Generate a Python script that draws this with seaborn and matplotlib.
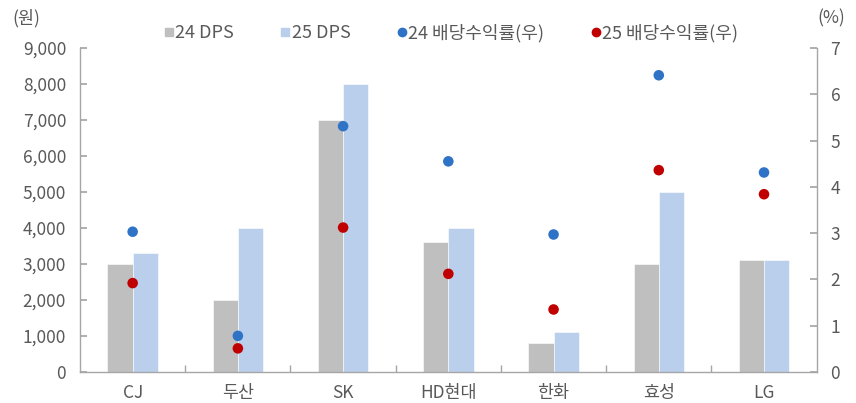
import numpy as np
import pandas as pd
import matplotlib
matplotlib.use("Agg")
import matplotlib.pyplot as plt
from matplotlib.lines import Line2D
from matplotlib.ticker import FuncFormatter, MultipleLocator, FixedLocator
import seaborn as sns

categories = ["CJ", "두산", "SK", "HD현대", "한화", "효성", "LG"]
dps24 = [3000, 2000, 7000, 3600, 800, 3000, 3100]
dps25 = [3300, 4000, 8000, 4000, 1100, 5000, 3100]
yield24 = [3.03, 0.78, 5.31, 4.55, 2.97, 6.41, 4.31]
yield25 = [1.92, 0.51, 3.12, 2.12, 1.35, 4.36, 3.84]
bar_labels = ["24 DPS", "25 DPS"]
dot_labels = ["24 배당수익률(우)", "25 배당수익률(우)"]

sns.set_theme(style="white")
plt.rcParams['font.family'] = ['Noto Sans CJK KR', 'DejaVu Sans']

TXT = "#595959"
SPINE = "#A6A6A6"
C_G = "#BFBFBF"
C_LB = "#B9CFEC"
C_B = "#2F73C6"
C_R = "#C00000"

bars = pd.DataFrame({
    "cat": categories * 2,
    "val": dps24 + dps25,
    "series": [bar_labels[0]] * len(categories) + [bar_labels[1]] * len(categories),
})
dots = pd.DataFrame({
    "cat": categories * 2,
    "val": yield24 + yield25,
    "series": [dot_labels[0]] * len(categories) + [dot_labels[1]] * len(categories),
})

fig = plt.figure(figsize=(8.56, 4.03), dpi=100)
ax = fig.add_axes([0.0935, 0.077, 0.8605, 0.804])
sns.barplot(data=bars, x="cat", y="val", hue="series", order=categories,
            palette=[C_G, C_LB], width=0.48, ax=ax, legend=False, saturation=1,
            edgecolor="white", linewidth=0.4)
ax.set_ylim(0, 9000)
ax.set_xlim(-0.5, len(categories) - 0.5)
ax.yaxis.set_major_locator(MultipleLocator(1000))
ax.yaxis.set_major_formatter(FuncFormatter(lambda v, p: f"{int(v):,}"))
ax.set_xlabel("")
ax.set_ylabel("")

ax2 = ax.twinx()
sns.stripplot(data=dots, x="cat", y="val", hue="series", order=categories,
              palette=[C_B, C_R], jitter=False, dodge=False, size=7.6, linewidth=0,
              ax=ax2, legend=False, zorder=5)
ax2.set_ylim(0, 7)
ax2.set_xlim(-0.5, len(categories) - 0.5)
ax2.yaxis.set_major_locator(MultipleLocator(1))
ax2.set_ylabel("")
ax2.set_xlabel("")

for a in (ax, ax2):
    for s in a.spines.values():
        s.set_color(SPINE)
        s.set_linewidth(1.0)
    a.spines["top"].set_visible(False)
ax.spines["right"].set_visible(False)
ax2.spines["left"].set_visible(False)
ax2.spines["bottom"].set_visible(False)

ax.tick_params(axis="y", direction="in", length=5, color=SPINE, labelsize=12.5,
               labelcolor=TXT, pad=10, left=True)
ax2.tick_params(axis="y", direction="in", length=5, color=SPINE, labelsize=12.5,
                labelcolor=TXT, pad=10, right=True)
ax.set_xticks(range(len(categories)))
ax.set_xticklabels(categories)
ax.tick_params(axis="x", which="major", length=0, labelsize=12.5, labelcolor=TXT, pad=9)
ax.xaxis.set_minor_locator(FixedLocator([i + 0.5 for i in range(len(categories) - 1)]))
ax.tick_params(axis="x", which="minor", direction="in", length=5, color=SPINE, bottom=True)

fig.text(0.014, 0.955, "(원)", color=TXT, fontsize=12.5, ha="left", va="center")
fig.text(0.987, 0.955, "(%)", color=TXT, fontsize=12.5, ha="right", va="center")

handles = [
    Line2D([], [], marker="s", linestyle="", color=C_G, markersize=6),
    Line2D([], [], marker="s", linestyle="", color=C_LB, markersize=6),
    Line2D([], [], marker="o", linestyle="", color=C_B, markersize=6),
    Line2D([], [], marker="o", linestyle="", color=C_R, markersize=6),
]
leg = fig.legend(handles, bar_labels + dot_labels, loc="center", ncol=4,
                 bbox_to_anchor=(0.527, 0.918), frameon=False, fontsize=13,
                 handlelength=0.5, handletextpad=0.1, columnspacing=2.6)
for t in leg.get_texts():
    t.set_color(TXT)

fig.savefig("out.png", dpi=100)
